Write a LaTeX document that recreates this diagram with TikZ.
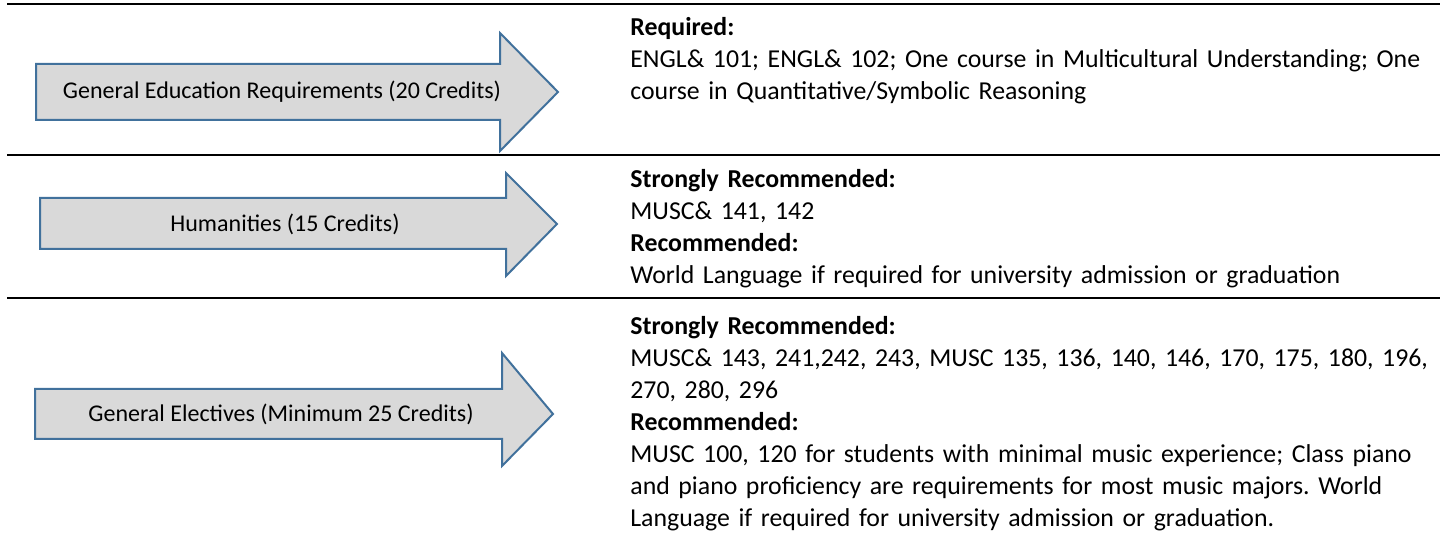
\documentclass[tikz,border=0pt]{standalone}
\usepackage{fontspec}
\setmainfont{Carlito}
\definecolor{shaftblue}{RGB}{65,113,156}
\definecolor{shaftgrey}{RGB}{217,217,217}
\frenchspacing

\begin{document}
\begin{tikzpicture}[x=.5pt,y=-.5pt,every node/.style={inner sep=0pt,font=\fontsize{12}{16}\selectfont},bigarrow/.style={draw=shaftblue,fill=shaftgrey,line width=1pt,line join=miter},rule/.style={line width=1.4pt},notes/.style={anchor=base west,text width=430pt,align=left,font=\fontsize{12.9}{16}\selectfont}]
\useasboundingbox (0,0) rectangle (1440,533);
\draw[rule] (7,4)--(1440,4);
\draw[rule] (7,155)--(1440,155);
\draw[rule] (7,298)--(1440,298);
\draw[bigarrow] (36,64)--(500,64)--(500,33)--(558,92)--(500,151)--(500,120)--(36,120)--cycle;
\draw[bigarrow] (40,198)--(506,198)--(506,173)--(557,224)--(506,276)--(506,249)--(40,249)--cycle;
\draw[bigarrow] (35,389)--(502,389)--(502,353)--(553,414)--(502,466)--(502,439)--(35,439)--cycle;
\node (gened) at (282,92) {General Education Requirements (20 Credits)};
\node (hum) at (285,224) {Humanities (15 Credits)};
\node (elect) at (281,414) {General Electives (Minimum 25 Credits)};
\node[notes] (gednotes) at (630,36) {\textbf{Required:}\\ENGL\& 101; ENGL\& 102; One course in Multicultural Understanding; One\\course in Quantitative/Symbolic Reasoning};
\node[notes] (humnotes) at (630,188) {\textbf{Strongly Recommended:}\\MUSC\& 141, 142\\\textbf{Recommended:}\\World Language if required for university admission or graduation};
\node[notes] (electnotes) at (630,335) {\textbf{Strongly Recommended:}\\MUSC\& 143, 241,242, 243, MUSC 135, 136, 140, 146, 170, 175, 180, 196,\\270, 280, 296\\\textbf{Recommended:}\\MUSC 100, 120 for students with minimal music experience; Class piano\\and piano proficiency are requirements for most music majors. World\\Language if required for university admission or graduation.};
\end{tikzpicture}
\end{document}
